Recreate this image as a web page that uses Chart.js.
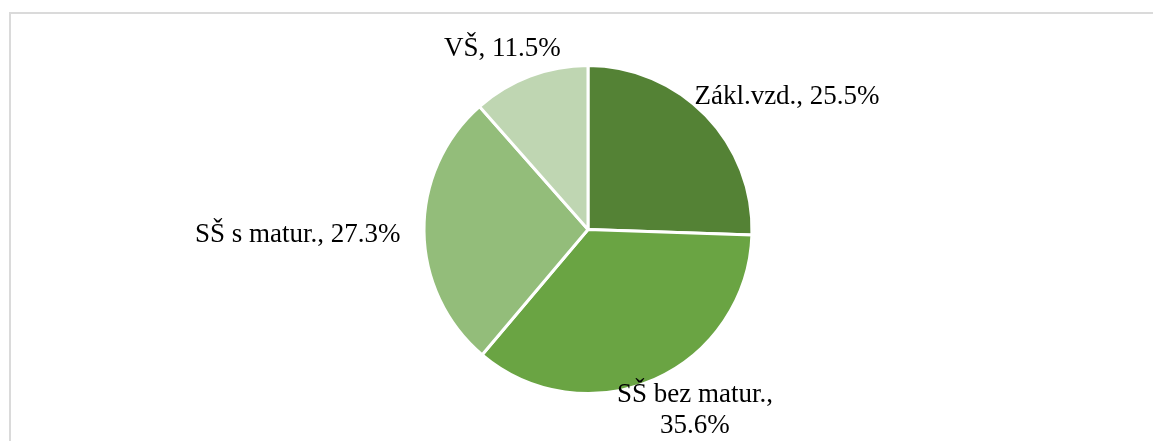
<!DOCTYPE html>
<html>
<head>
<meta charset="utf-8">
<script src="https://cdn.jsdelivr.net/npm/chart.js@4.4.0/dist/chart.umd.min.js"></script>
<style>
    html, body { margin: 0; padding: 0; background: #fff; }
    #wrap { position: relative; width: 1153px; height: 441px; overflow: hidden; }
    #frame {
        position: absolute; left: 9px; top: 12px; width: 1200px; height: 500px;
        border-top: 2px solid #dadada; border-left: 2px solid #dadada;
    }
    #eduChart { position: absolute; left: 0; top: 0; }
</style>
</head>
<body>
<div id="wrap">
    <div id="frame"></div>
    <canvas id="eduChart" width="1153" height="441"></canvas>
</div>
<script>
const categories = ['Zákl.vzd.', 'SŠ bez matur.', 'SŠ s matur.', 'VŠ'];
const shares = [25.5, 35.6, 27.3, 11.5];
const sliceColors = ['#548235', '#6aa443', '#93bd7a', '#bfd6b2'];

// where each label sits: radius factor along the slice middle + small nudge (px)
const labelPlace = [
    { k: 1.12, dx: 67, dy: 2, lines: 1 },
    { k: 0.96, dx: 43, dy: 45, lines: 2 },
    { k: 1.02, dx: -123, dy: 11, lines: 1 },
    { k: 1.15, dx: -19, dy: 3, lines: 1 }
];

const pieLabels = {
    id: 'pieLabels',
    afterDatasetsDraw(chart) {
        const ctx = chart.ctx;
        const arcs = chart.getDatasetMeta(0).data;
        ctx.save();
        ctx.font = '27px "Liberation Serif", "Times New Roman", serif';
        ctx.fillStyle = '#000';
        ctx.textAlign = 'center';
        ctx.textBaseline = 'alphabetic';
        arcs.forEach((arc, i) => {
            const p = arc.getProps(['x', 'y', 'startAngle', 'endAngle', 'outerRadius'], true);
            const mid = (p.startAngle + p.endAngle) / 2;
            const place = labelPlace[i];
            const x = p.x + Math.cos(mid) * p.outerRadius * place.k + place.dx;
            const y = p.y + Math.sin(mid) * p.outerRadius * place.k + place.dy;
            const pct = shares[i].toFixed(1) + '%';
            if (place.lines === 2) {
                ctx.fillText(categories[i] + ',', x, y - 16);
                ctx.fillText(pct, x, y + 15);
            } else {
                ctx.fillText(categories[i] + ', ' + pct, x, y);
            }
        });
        ctx.restore();
    }
};

new Chart(document.getElementById('eduChart').getContext('2d'), {
    type: 'pie',
    data: {
        labels: categories,
        datasets: [{
            data: shares,
            backgroundColor: sliceColors,
            borderColor: '#ffffff',
            borderWidth: 3,
            borderAlign: 'center'
        }]
    },
    options: {
        responsive: false,
        animation: false,
        layout: {
            padding: { top: 64, bottom: 46, left: 23, right: 0 }
        },
        plugins: {
            legend: { display: false },
            tooltip: { enabled: false }
        }
    },
    plugins: [pieLabels]
});
</script>
</body>
</html>
